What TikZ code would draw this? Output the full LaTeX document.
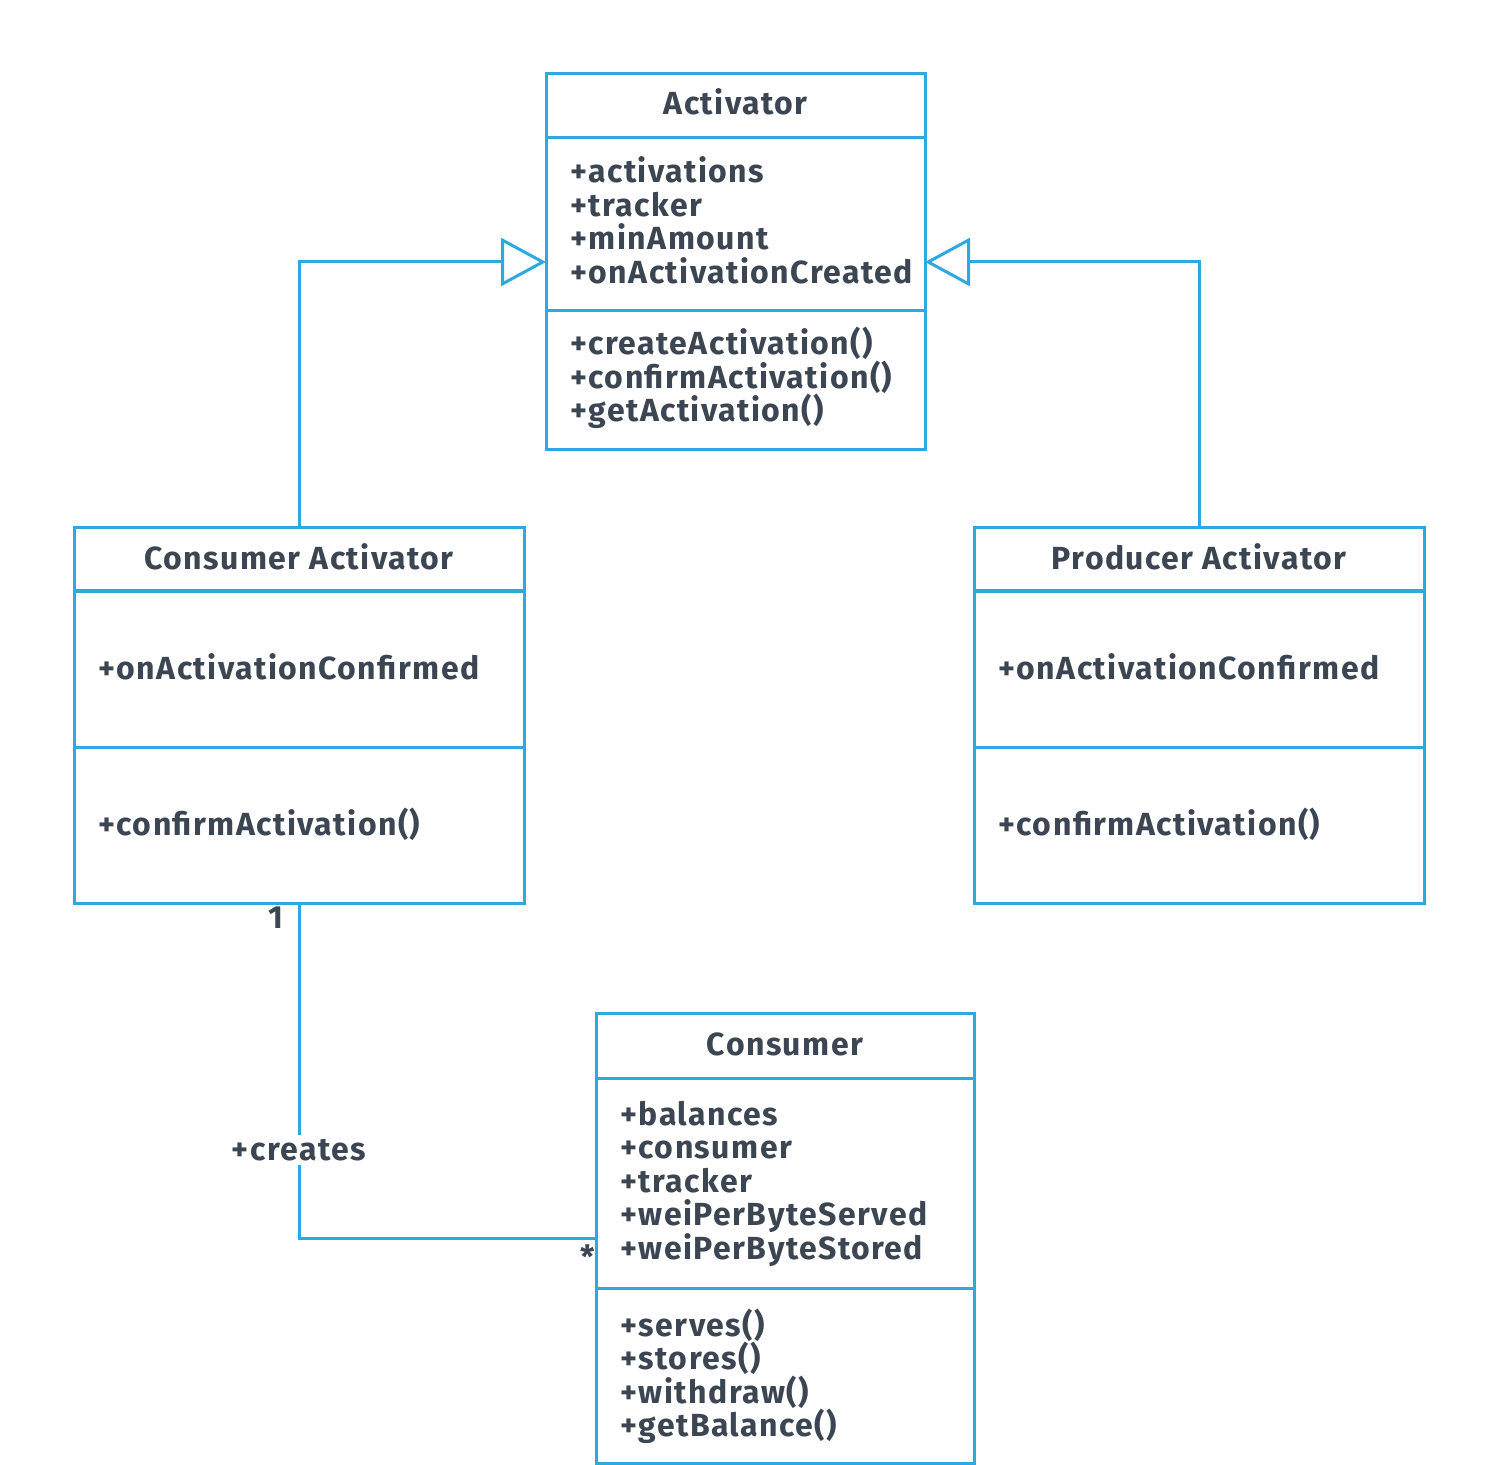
\documentclass[tikz,border=0pt]{standalone}
\usepackage{fontspec}
\setmainfont{Fira Sans}[BoldFeatures={LetterSpace=4.5}]
\usetikzlibrary{arrows.meta}
\definecolor{umlblue}{HTML}{2DA8E1}
\definecolor{ink}{HTML}{3B4652}
\newcommand{\umltext}{\fontsize{16}{16.7}\selectfont\bfseries}
\tikzset{
  classbox/.style={draw=umlblue, line width=1.5pt, fill=white, inner sep=0pt, outer sep=0pt},
  divider/.style={draw=umlblue, line width=1.5pt},
  member/.style={text=ink, font=\umltext, inner sep=0pt, anchor=base west},
  classname/.style={text=ink, font=\umltext, inner sep=0pt, anchor=base},
  link/.style={draw=umlblue, line width=1.5pt},
  generalize/.style={link, -{Triangle[open, length=22.5pt, width=24pt, fill=white]}},
  mult/.style={text=ink, font=\umltext, inner sep=0pt},
}
\begin{document}
\begin{tikzpicture}[x=0.5pt, y=-0.5pt]
\useasboundingbox (0,0) rectangle (1500,1465);

% ---- Activator ----
\node[classbox, minimum width=189.5pt, minimum height=188pt] (act) at (735.5,262) {};
\draw[divider] (act.west |- 0,138) -- (act.east |- 0,138);
\draw[divider] (act.west |- 0,311) -- (act.east |- 0,311);
\node[classname] (actT) at (735.5,115) {Activator};
\foreach \t [count=\i] in {+activations, +tracker, +minAmount, +onActivationCreated}
  \node[member] (actA\i) at (570, {183+33.4*(\i-1)}) {\t};
\foreach \t [count=\i] in {+createActivation(), +confirmActivation(), +getActivation()}
  \node[member] (actM\i) at (570, {355+33.4*(\i-1)}) {\t};

% ---- Consumer Activator ----
\node[classbox, minimum width=225pt, minimum height=187.5pt] (cact) at (299,715.5) {};
\draw[divider] (cact.west |- 0,591) -- (cact.east |- 0,591);
\draw[divider] (cact.west |- 0,747) -- (cact.east |- 0,747);
\node[classname] (cactT) at (299,570) {Consumer Activator};
\node[member] (cactA1) at (98,679) {+onActivationConfirmed};
\node[member] (cactM1) at (98,835) {+confirmActivation()};

% ---- Producer Activator ----
\node[classbox, minimum width=225pt, minimum height=187.5pt] (pact) at (1199,715.5) {};
\draw[divider] (pact.west |- 0,591) -- (pact.east |- 0,591);
\draw[divider] (pact.west |- 0,747) -- (pact.east |- 0,747);
\node[classname] (pactT) at (1199,570) {Producer Activator};
\node[member] (pactA1) at (998,679) {+onActivationConfirmed};
\node[member] (pactM1) at (998,835) {+confirmActivation()};

% ---- Consumer ----
\node[classbox, minimum width=189pt, minimum height=225pt] (cons) at (785,1238) {};
\draw[divider] (cons.west |- 0,1078) -- (cons.east |- 0,1078);
\draw[divider] (cons.west |- 0,1288) -- (cons.east |- 0,1288);
\node[classname] (consT) at (785,1055) {Consumer};
\foreach \t [count=\i] in {+balances, +consumer, +tracker, +weiPerByteServed, +weiPerByteStored}
  \node[member] (consA\i) at (620, {1125+33.5*(\i-1)}) {\t};
\foreach \t [count=\i] in {+serves(), +stores(), +withdraw(), +getBalance()}
  \node[member] (consM\i) at (620, {1336+33.5*(\i-1)}) {\t};

% ---- Generalizations ----
\draw[generalize] (cact.north) |- (act.west);
\draw[generalize] (pact.north) |- (act.east);

% ---- Association ----
\draw[link] (cact.south) |- (cons.west)
  node[pos=0.369, fill=white, text=ink, font=\umltext, inner sep=2pt] (creates) {+creates};
\node[mult] (m1) at (276,918) {1};
\node[mult] (m2) at (588,1257) {*};
\end{tikzpicture}
\end{document}
